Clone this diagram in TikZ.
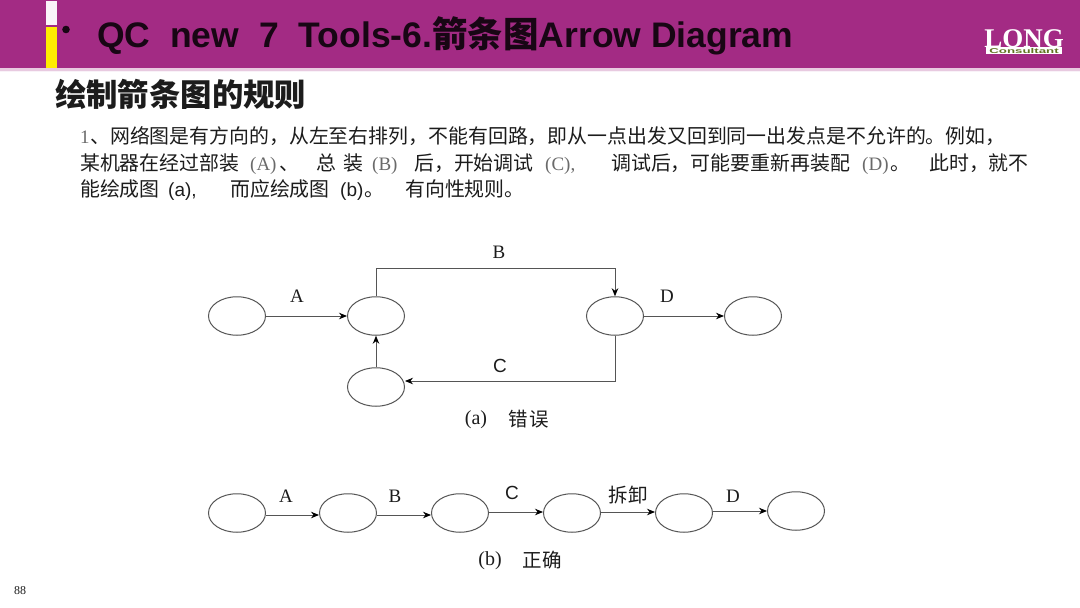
\documentclass[tikz,border=0pt]{standalone}
\usepackage{fontspec}
\usetikzlibrary{shapes.geometric,arrows.meta}
\setmainfont{Liberation Serif}
\setsansfont{Liberation Sans}
\newfontfamily\cjk{Noto Sans CJK SC}
\definecolor{hdr}{HTML}{A32B84}
\definecolor{ink}{HTML}{1C1C1C}
\definecolor{ln}{HTML}{555555}
\definecolor{soft}{HTML}{6A6A6A}
\tikzset{
  evt/.style={ellipse,draw=ln,line width=1pt,minimum width=57pt,minimum height=38.5pt,inner sep=0pt},
  arr/.style={draw=ln,line width=0.9pt,-{Stealth[length=8pt,width=6.5pt,color=black]}},
  bodytxt/.style={anchor=base west,inner sep=0pt,text=ink,font=\cjk\fontsize{19.9}{22}\selectfont},
  lat/.style={anchor=base west,inner sep=0pt,text=soft,font=\rmfamily\fontsize{19}{22}\selectfont},
  arial/.style={anchor=base west,inner sep=0pt,text=ink,font=\sffamily\fontsize{19}{22}\selectfont},
  lbl/.style={inner sep=0pt,text=ink,font=\rmfamily\fontsize{19}{22}\selectfont},
  lbls/.style={inner sep=0pt,text=ink,font=\sffamily\fontsize{19}{22}\selectfont},
  captxt/.style={inner sep=0pt,text=ink,font=\cjk\fontsize{19.5}{22}\selectfont},
  caplat/.style={inner sep=0pt,text=ink,font=\rmfamily\fontsize{20}{22}\selectfont}
}
\begin{document}
\begin{tikzpicture}[x=1pt,y=-1pt]
\useasboundingbox (0,0) rectangle (1080,608);
\fill[white] (0,0) rectangle (1080,608);
% header band
\fill[hdr] (0,0) rectangle (1080,68);
\fill[hdr!25] (0,68) rectangle (1080,70.5);
\fill[hdr!6] (0,70.5) rectangle (1080,72);
\fill[white!95!hdr] (46,1) rectangle (57,25);
\fill[yellow!95!orange] (46,27) rectangle (57,68);
\fill[black!85!hdr] (66,29.5) circle (3.8);
\node[anchor=base west,inner sep=0pt,text=black!85!hdr,font=\sffamily\bfseries\fontsize{35.5}{40}\selectfont] (title) at (97,47)
  {QC\hspace{10pt} new\hspace{10pt} 7\hspace{10pt} Tools-6.{\cjk 箭条图}Arrow Diagram};
% logo
\fill[white] (986,46.5) rectangle (1062,54);
\node[anchor=base,inner sep=0pt,text=black!60!green!50!brown,font=\sffamily\bfseries\fontsize{7}{8}\selectfont,xscale=1.9] (logosub) at (1024,53.5) {Consultant};
\node[anchor=base,inner sep=0pt,text=white,font=\rmfamily\bfseries\fontsize{27}{30}\selectfont] (logo) at (1024,47) {LONG};
% heading
\node[anchor=base west,inner sep=0pt,text=ink,font=\cjk\bfseries\fontsize{31.4}{34}\selectfont] (head) at (55,106.5) {绘制箭条图的规则};
% body line 1
\node[lat] (t1a) at (80,143) {1};
\node[bodytxt] (t1b) at (90,143) {、网络图是有方向的，从左至右排列，不能有回路，即从一点出发又回到同一出发点是不允许的。例如，};
% body line 2
\node[bodytxt] (t2a) at (80,170) {某机器在经过部装};
\node[lat] (t2b) at (250,170) {(A)};
\node[bodytxt] (t2c) at (279,170) {、};
\node[bodytxt] (t2d) at (316,170) {总};
\node[bodytxt] (t2e) at (343,170) {装};
\node[lat] (t2f) at (372,170) {(B)};
\node[bodytxt] (t2g) at (414,170) {后，开始调试};
\node[lat] (t2h) at (545,170) {(C),};
\node[bodytxt] (t2i) at (611,170) {调试后，可能要重新再装配};
\node[lat] (t2j) at (862,170) {(D)};
\node[bodytxt] (t2k) at (890,170) {。};
\node[bodytxt] (t2l) at (929,170) {此时，就不};
% body line 3
\node[bodytxt] (t3a) at (80,196) {能绘成图};
\node[arial] (t3b) at (168,196) {(a),};
\node[bodytxt] (t3c) at (230,196) {而应绘成图};
\node[arial] (t3d) at (340,196) {(b)};
\node[bodytxt] (t3e) at (364,196) {。};
\node[bodytxt] (t3f) at (405,196) {有向性规则。};
% diagram (a)
\node[evt] (a1) at (237,316) {};
\node[evt] (a2) at (376,316) {};
\node[evt] (a3) at (376,387) {};
\node[evt] (a4) at (615,316) {};
\node[evt] (a5) at (753,316) {};
\coordinate (bend) at (615,268);
\draw[arr] (a1) -- (a2);
\draw[arr] (a2.north) |- (bend) -- (a4.north);
\draw[arr] (a4) -- (a5);
\draw[arr] (a4.south) |- (a3.east |- 0,381);
\draw[arr] (a3) -- (a2);
\node[lbl] (la) at (297,296) {A};
\node[lbl] (lb) at (499,252) {B};
\node[lbls] (lc) at (500,366) {C};
\node[lbl] (ld) at (667,296) {D};
\node[caplat] (capa1) at (476,420) {(a)};
\node[captxt] (capa2) at (528.5,419) {错\hspace{2pt}误};
% diagram (b)
\node[evt] (b1) at (237,513) {};
\node[evt] (b2) at (348,513) {};
\node[evt] (b3) at (460,513) {};
\node[evt] (b4) at (572,513) {};
\node[evt] (b5) at (684,513) {};
\node[evt] (b6) at (796,511) {};
\draw[arr] (b1.east |- 0,515) -- (b2.west |- 0,515);
\draw[arr] (b2.east |- 0,515) -- (b3.west |- 0,515);
\draw[arr] (b3.east |- 0,512) -- (b4.west |- 0,512);
\draw[arr] (b4.east |- 0,512) -- (b5.west |- 0,512);
\draw[arr] (b5.east |- 0,511) -- (b6.west |- 0,511);
\node[lbl] (lba) at (286,496) {A};
\node[lbl] (lbb) at (395,496) {B};
\node[lbls] (lbc) at (512,493) {C};
\node[captxt] (lbx) at (628,495) {拆卸};
\node[lbl] (lbd) at (733,496) {D};
\node[caplat] (capb1) at (490,561) {(b)};
\node[captxt] (capb2) at (542,560) {正确};
% page number
\node[inner sep=0pt,text=ink,font=\rmfamily\fontsize{12}{14}\selectfont] (pg) at (20,591) {88};
\end{tikzpicture}
\end{document}
